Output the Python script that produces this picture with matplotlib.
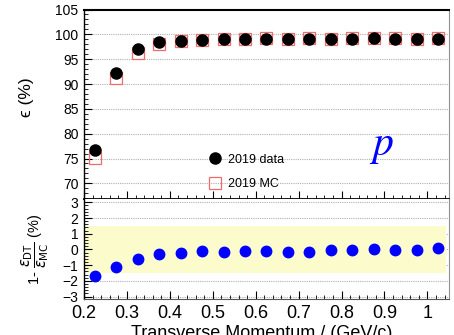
import numpy as np
import matplotlib.pyplot as plt
from matplotlib.ticker import MultipleLocator

# bin centres in transverse momentum (GeV/c)
pt = [0.225, 0.275, 0.325, 0.375, 0.425, 0.475, 0.525, 0.575, 0.625,
      0.675, 0.725, 0.775, 0.825, 0.875, 0.925, 0.975, 1.025]

# efficiency (%) for data and MC
eff_data = [76.8, 92.2, 97.0, 98.4, 98.7, 98.9, 99.05, 99.1, 99.15,
            99.1, 99.15, 99.1, 99.15, 99.25, 99.15, 99.1, 99.1]
eff_mc = [75.2, 91.2, 96.3, 98.0, 98.6, 98.95, 99.1, 99.15, 99.2,
          99.15, 99.2, 99.15, 99.2, 99.3, 99.2, 99.15, 99.2]

# 1 - eff_DT / eff_MC (%)
ratio = [-1.71, -1.11, -0.59, -0.31, -0.24, -0.11, -0.17, -0.09, -0.09,
         -0.16, -0.14, -0.03, -0.03, 0.0, -0.05, -0.05, 0.08]

# systematic band
band_x = [0.2, 1.043]
band_lo = -1.5
band_hi = 1.5

plt.rcParams['font.family'] = ['Liberation Sans', 'DejaVu Sans']

fig = plt.figure(figsize=(4.54, 3.35), dpi=100)
L, R = 0.185, 0.9897
ax1 = fig.add_axes([L, 0.4045, R - L, 0.9716 - 0.4045])
ax2 = fig.add_axes([L, 0.1066, R - L, 0.4045 - 0.1066], sharex=ax1)

# ---- upper panel
for y in range(70, 105, 5):
    ax1.axhline(y, color='#b0b0b0', lw=0.8, ls=(0, (1, 1)), zorder=0)
ax1.plot(pt, eff_mc, 's', ms=8.5, mfc='none', mec='#f26a6a', mew=0.9,
         label='2019 MC', zorder=2)
ax1.plot(pt, eff_data, 'o', ms=8, color='black', label='2019 data', zorder=3)
ax1.set_ylim(66.75, 105)
ax1.set_xlim(0.2, 1.051)
ax1.yaxis.set_major_locator(MultipleLocator(5))
ax1.yaxis.set_minor_locator(MultipleLocator(1))
ax1.set_ylabel('ϵ (%)', fontsize=12.5)
ax1.yaxis.set_label_coords(-0.137, 0.54)
ax1.tick_params(labelbottom=False)

h, lab = ax1.get_legend_handles_labels()
ax1.legend(h[::-1], lab[::-1], loc='lower left', bbox_to_anchor=(0.303, -0.01),
           frameon=False, fontsize=9, handletextpad=0.4, labelspacing=1.0,
           handlelength=1.4)

ax1.text(0.815, 0.28, r'$p$', transform=ax1.transAxes, color='#0000ff',
         fontsize=30, math_fontfamily='stix', ha='center', va='center')

# ---- lower panel
for y in range(-3, 4):
    ax2.axhline(y, color='#b0b0b0', lw=0.8, ls=(0, (1, 1)), zorder=0)
ax2.fill_between(band_x, band_lo, band_hi, color='#fbfbcc', lw=0, zorder=1)
ax2.plot(pt, ratio, 'o', ms=7.5, color='#0000ff', zorder=3)
ax2.set_ylim(-3.17, 3.18)
ax2.yaxis.set_major_locator(MultipleLocator(1))
ax2.yaxis.set_minor_locator(MultipleLocator(0.2))
ax2.set_ylabel(r'1- $\dfrac{\epsilon_{\mathrm{DT}}}{\epsilon_{\mathrm{MC}}}$ (%)', fontsize=10.5)
ax2.yaxis.set_label_coords(-0.09, 0.5)

ax2.xaxis.set_major_locator(MultipleLocator(0.1))
ax2.xaxis.set_minor_locator(MultipleLocator(0.02))
ax2.set_xticks(np.arange(0.2, 1.01, 0.1))
ax2.set_xticklabels(['0.2', '0.3', '0.4', '0.5', '0.6', '0.7', '0.8', '0.9', '1'])

for ax in (ax1, ax2):
    ax.tick_params(which='both', direction='in', top=False, right=False)
    ax.tick_params(which='major', length=6, width=0.8, pad=4)
    ax.tick_params(which='minor', length=3, width=0.6)
    ax.tick_params(axis='y', labelsize=10)
    ax.spines['right'].set_color('#909090')
    ax.spines['right'].set_linewidth(0.8)
    ax.spines['left'].set_linewidth(1.0)
ax1.spines['top'].set_linewidth(1.5)
ax1.spines['bottom'].set_linewidth(1.3)
ax2.spines['top'].set_visible(False)
ax2.spines['bottom'].set_color('#555555')
ax2.tick_params(axis='x', labelsize=13)

fig.text(0.577, -0.0084, 'Transverse Momentum / (GeV/c)', fontsize=13,
         ha='center', va='baseline')

fig.savefig('out.png', dpi=100)
